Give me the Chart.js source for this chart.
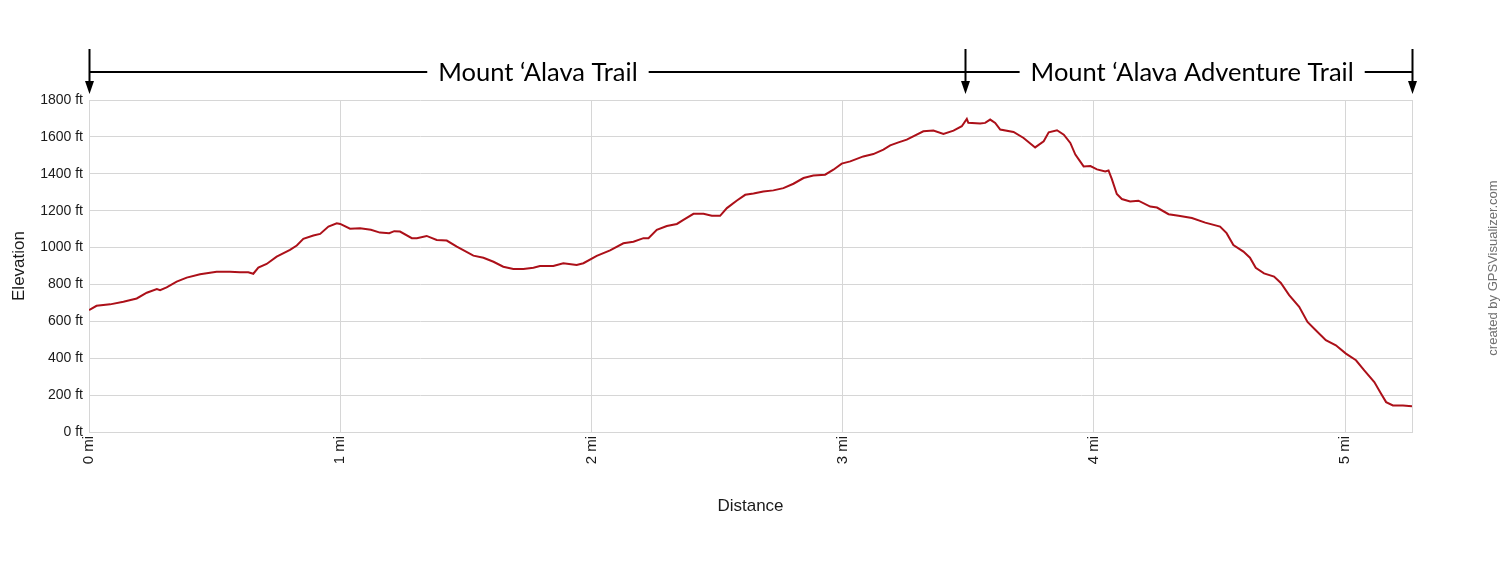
<!DOCTYPE html>
<html>
<head>
<meta charset="utf-8">
<script src="https://cdn.jsdelivr.net/npm/chart.js@4.4.1/dist/chart.umd.min.js"></script>
<style>
  html, body { margin: 0; padding: 0; background: #fff; }
  #wrap { width: 1500px; height: 564px; }
</style>
</head>
<body>
<div id="wrap"><canvas id="c" width="1500" height="564"></canvas></div>
<script>
// Distance along trail (mi)
const distanceMi = [
  0, 0.03, 0.084, 0.137, 0.19, 0.23, 0.27, 0.283, 0.309, 0.349, 0.389, 0.442, 0.508, 0.561, 0.601, 0.634, 0.654, 0.674, 0.707, 0.747, 0.80, 0.827, 0.853, 0.893, 0.92, 0.953, 0.986, 1.0,
  1.039, 1.079, 1.122, 1.158, 1.195, 1.215, 1.238, 1.285, 1.305, 1.344, 1.384, 1.424, 1.464, 1.53, 1.57, 1.61, 1.649, 1.689, 1.729, 1.769, 1.795, 1.848, 1.888, 1.941, 1.968,
  2.021, 2.074, 2.127, 2.167, 2.207, 2.227, 2.26, 2.30, 2.34, 2.366, 2.406, 2.446, 2.479, 2.512, 2.539, 2.579, 2.612, 2.645, 2.684, 2.724, 2.764, 2.804, 2.844, 2.883, 2.93, 2.963,
  2.996, 3.03, 3.082, 3.122, 3.162, 3.189, 3.222, 3.255, 3.321, 3.361, 3.401, 3.441, 3.474, 3.494, 3.50, 3.547, 3.567, 3.587, 3.607, 3.627, 3.68, 3.72, 3.766, 3.80, 3.82, 3.853,
  3.88, 3.906, 3.926, 3.959, 3.986, 4.012, 4.045, 4.058, 4.071, 4.091, 4.111, 4.144, 4.177, 4.224, 4.251, 4.297, 4.337, 4.39, 4.443, 4.502, 4.528, 4.555, 4.595, 4.621, 4.644,
  4.677, 4.717, 4.744, 4.777, 4.817, 4.85, 4.883, 4.923, 4.963, 5.003, 5.043, 5.076, 5.116, 5.143, 5.163, 5.19, 5.23, 5.266
];
// Elevation (ft)
const elevationFt = [
  661, 684, 692, 706, 724, 755, 775, 769, 784, 815, 837, 855, 869, 869, 866, 866, 858, 891, 911, 951, 987, 1011, 1047, 1065, 1074, 1114, 1132, 1128,
  1102, 1105, 1096, 1081, 1078, 1089, 1087, 1051, 1051, 1063, 1041, 1038, 1005, 956, 945, 923, 896, 884, 884, 891, 900, 900, 915, 905, 915,
  955, 985, 1023, 1032, 1051, 1051, 1096, 1117, 1128, 1150, 1183, 1183, 1172, 1172, 1214, 1255, 1286, 1293, 1304, 1310, 1322, 1346, 1377, 1391, 1395, 1422,
  1455, 1467, 1494, 1507, 1531, 1554, 1570, 1585, 1630, 1634, 1616, 1634, 1658, 1698, 1676, 1672, 1676, 1694, 1676, 1640, 1627, 1594, 1543, 1576, 1625, 1636,
  1612, 1567, 1504, 1440, 1442, 1424, 1413, 1418, 1372, 1290, 1263, 1250, 1254, 1222, 1217, 1181, 1172, 1160, 1135, 1114, 1078, 1014, 978, 945, 890,
  860, 843, 808, 742, 679, 597, 552, 498, 470, 425, 389, 334, 271, 208, 162, 144, 144, 139
];
// Axis ticks
const xTickValues = [0, 1, 2, 3, 4, 5];
const yTickValues = [0, 200, 400, 600, 800, 1000, 1200, 1400, 1600, 1800];
const xMax = 5.266;
// Trail segments (boundaries in mi) and their labels
const segmentBounds = [0, 3.487, 5.266];
const segmentLabels = ['Mount \u2018Alava Trail', 'Mount \u2018Alava Adventure Trail'];
const segmentLabelCenters = [1.787, 4.391];

const points = distanceMi.map((d, i) => ({ x: d, y: elevationFt[i] }));

const annotations = {
  id: 'annotations',
  afterDraw(chart) {
    const ctx = chart.ctx;
    const xs = chart.scales.x;
    const lineY = 72;
    ctx.save();
    ctx.strokeStyle = '#000';
    ctx.lineWidth = 2;
    ctx.beginPath();
    ctx.moveTo(xs.getPixelForValue(segmentBounds[0]), lineY);
    ctx.lineTo(xs.getPixelForValue(segmentBounds[segmentBounds.length - 1]), lineY);
    ctx.stroke();
    segmentBounds.forEach(b => {
      const x = Math.round(xs.getPixelForValue(b)) + 0.5;
      ctx.beginPath();
      ctx.moveTo(x, 49);
      ctx.lineTo(x, 84);
      ctx.stroke();
      ctx.fillStyle = '#000';
      ctx.beginPath();
      ctx.moveTo(x - 4.5, 81);
      ctx.lineTo(x + 4.5, 81);
      ctx.lineTo(x, 94);
      ctx.closePath();
      ctx.fill();
    });
    ctx.font = '25.5px Lato, "Open Sans", sans-serif';
    ctx.textBaseline = 'middle';
    ctx.textAlign = 'center';
    segmentLabels.forEach((t, i) => {
      const cx = xs.getPixelForValue(segmentLabelCenters[i]);
      const w = ctx.measureText(t).width;
      ctx.fillStyle = '#fff';
      ctx.fillRect(cx - w / 2 - 11, lineY - 16, w + 22, 32);
      ctx.fillStyle = '#000';
      ctx.fillText(t, cx, lineY + 1);
    });
    ctx.translate(1493, 268);
    ctx.rotate(-Math.PI / 2);
    ctx.font = '13px "Liberation Sans", Arial, sans-serif';
    ctx.fillStyle = '#707070';
    ctx.fillText('created by GPSVisualizer.com', 0, 0);
    ctx.restore();
  }
};

Chart.defaults.font.family = '"Liberation Sans", Arial, sans-serif';

new Chart(document.getElementById('c'), {
  type: 'line',
  data: {
    datasets: [{
      data: points,
      borderColor: '#ac1019',
      borderWidth: 2,
      pointRadius: 0,
      tension: 0,
      fill: false
    }]
  },
  options: {
    responsive: false,
    animation: false,
    layout: { padding: { top: 100, right: 88, left: 0, bottom: 0 } },
    plugins: { legend: { display: false }, tooltip: { enabled: false } },
    scales: {
      x: {
        type: 'linear',
        min: 0,
        max: xMax,
        afterBuildTicks(s) {
          s.ticks = xTickValues.map(v => ({ value: v })).concat([{ value: xMax }]);
        },
        afterFit(s) { s.height = 132; },
        ticks: {
          autoSkip: false,
          maxRotation: 90,
          minRotation: 90,
          padding: 4,
          color: '#1a1a1a',
          font: { size: 15 },
          callback: v => (xTickValues.includes(v) ? v + ' mi' : '')
        },
        grid: { color: '#d6d6d6', drawTicks: false },
        border: { color: '#d6d6d6' },
        title: {
          display: true,
          text: 'Distance',
          color: '#1a1a1a',
          font: { size: 17 },
          padding: { top: 0, bottom: 47 }
        }
      },
      y: {
        min: 0,
        max: 1800,
        afterBuildTicks(s) {
          s.ticks = yTickValues.map(v => ({ value: v }));
        },
        afterFit(s) { s.width = 89; },
        ticks: {
          padding: 6,
          color: '#1a1a1a',
          font: { size: 14 },
          callback: v => v + ' ft'
        },
        grid: { color: '#d6d6d6', drawTicks: false },
        border: { color: '#d6d6d6' },
        title: {
          display: true,
          text: 'Elevation',
          color: '#1a1a1a',
          font: { size: 17 },
          padding: { top: 9, bottom: 0 }
        }
      }
    }
  },
  plugins: [annotations]
});
</script>
</body>
</html>
